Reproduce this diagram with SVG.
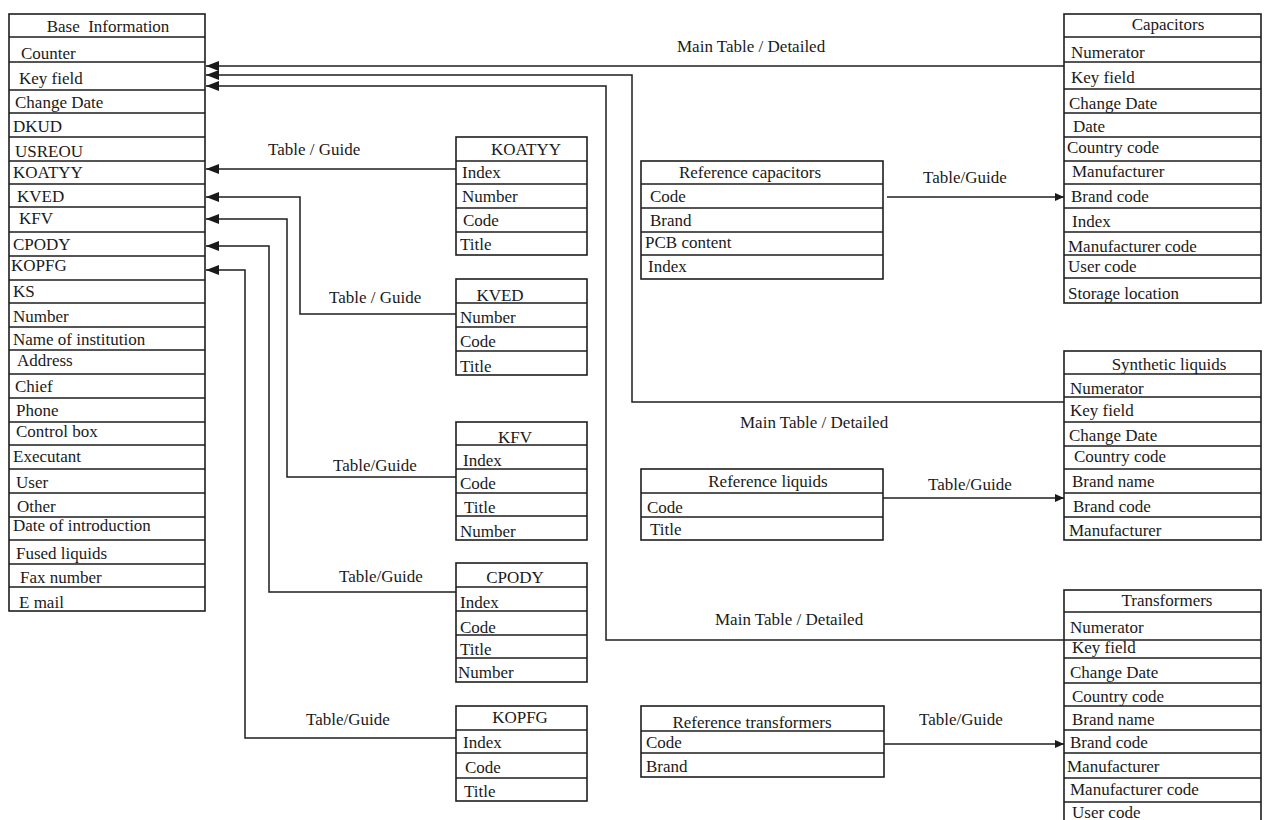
<svg xmlns="http://www.w3.org/2000/svg" width="1264" height="820" viewBox="0 0 1264 820">
<style>
.bg{fill:#ffffff}
.tb{fill:#ffffff;stroke:#1e1e1e;stroke-width:1.6}
.ln{fill:none;stroke:#1e1e1e;stroke-width:1.4}
.c{fill:none;stroke:#1e1e1e;stroke-width:1.5}
text{font-family:"Liberation Serif","Times New Roman",serif;font-size:17px;fill:#1a1a1a}
.h{text-anchor:middle}
</style>
<defs>
<marker id="al" markerUnits="userSpaceOnUse" markerWidth="14" markerHeight="10" refX="13" refY="5" orient="auto">
<path d="M0,0 L13,5 L0,10 Z" fill="#1a1a1a"/>
</marker>
<marker id="ar" markerUnits="userSpaceOnUse" markerWidth="10" markerHeight="8" refX="9" refY="4" orient="auto">
<path d="M0,0 L9,4 L0,8 Z" fill="#1a1a1a"/>
</marker>
</defs>
<rect class="bg" x="0" y="0" width="1264" height="820"/>

<g id="connectors">
<path class="c" d="M1064,66 H206" marker-end="url(#al)"/>
<path class="c" d="M1064,402 H632 V75 H206" marker-end="url(#al)"/>
<path class="c" d="M1064,640 H606 V86 H206" marker-end="url(#al)"/>
<path class="c" d="M456,169 H206" marker-end="url(#al)"/>
<path class="c" d="M456,314 H300 V197 H206" marker-end="url(#al)"/>
<path class="c" d="M456,477 H287 V219 H206" marker-end="url(#al)"/>
<path class="c" d="M456,592 H269 V246 H206" marker-end="url(#al)"/>
<path class="c" d="M456,738 H245 V270 H206" marker-end="url(#al)"/>
<path class="c" d="M887,197 H1064" marker-end="url(#ar)"/>
<path class="c" d="M883,498 H1064" marker-end="url(#ar)"/>
<path class="c" d="M884,744 H1064" marker-end="url(#ar)"/>
<text x="677" y="52">Main Table / Detailed</text>
<text x="740" y="428">Main Table / Detailed</text>
<text x="715" y="625">Main Table / Detailed</text>
<text x="268" y="155">Table / Guide</text>
<text x="329" y="303">Table / Guide</text>
<text x="333" y="471">Table/Guide</text>
<text x="339" y="582">Table/Guide</text>
<text x="306" y="725">Table/Guide</text>
<text x="923" y="183">Table/Guide</text>
<text x="928" y="490">Table/Guide</text>
<text x="919" y="725">Table/Guide</text>
</g>

<g id="base-information">
<rect class="tb" x="9" y="14" width="196" height="597"/>
<path class="ln" d="M9,37H205M9,62H205M9,90H205M9,113H205M9,137H205M9,161H205M9,184H205M9,207H205M9,232H205M9,256H205M9,280H205M9,303H205M9,327H205M9,350H205M9,374H205M9,398H205M9,422H205M9,445H205M9,469H205M9,493H205M9,517H205M9,540H205M9,564H205M9,587H205"/>
<text class="h" x="108" y="32" xml:space="preserve">Base  Information</text>
<text x="21" y="59">Counter</text>
<text x="19" y="84">Key field</text>
<text x="15" y="108">Change Date</text>
<text x="13" y="132">DKUD</text>
<text x="15" y="157">USREOU</text>
<text x="13" y="178">KOATYY</text>
<text x="17" y="202">KVED</text>
<text x="19" y="224">KFV</text>
<text x="13" y="250">CPODY</text>
<text x="11" y="271">KOPFG</text>
<text x="13" y="297">KS</text>
<text x="13" y="322">Number</text>
<text x="13" y="345">Name of institution</text>
<text x="17" y="366">Address</text>
<text x="15" y="392">Chief</text>
<text x="16" y="416">Phone</text>
<text x="16" y="437">Control box</text>
<text x="13" y="462">Executant</text>
<text x="16" y="488">User</text>
<text x="17" y="512">Other</text>
<text x="13" y="531">Date of introduction</text>
<text x="16" y="559">Fused liquids</text>
<text x="20" y="583">Fax number</text>
<text x="19" y="608">E mail</text>
</g>

<g id="koatyy">
<rect class="tb" x="456" y="137" width="131" height="118"/>
<path class="ln" d="M456,161H587M456,184H587M456,208H587M456,232H587"/>
<text class="h" x="526" y="155">KOATYY</text>
<text x="462" y="178">Index</text>
<text x="462" y="202">Number</text>
<text x="463" y="226">Code</text>
<text x="460" y="250">Title</text>
</g>

<g id="kved">
<rect class="tb" x="456" y="279" width="131" height="96"/>
<path class="ln" d="M456,303H587M456,327H587M456,351H587"/>
<text class="h" x="500" y="301">KVED</text>
<text x="460" y="323">Number</text>
<text x="460" y="347">Code</text>
<text x="460" y="372">Title</text>
</g>

<g id="kfv">
<rect class="tb" x="456" y="422" width="131" height="118"/>
<path class="ln" d="M456,445H587M456,469H587M456,493H587M456,516H587"/>
<text class="h" x="515" y="443">KFV</text>
<text x="463" y="466">Index</text>
<text x="460" y="489">Code</text>
<text x="464" y="513">Title</text>
<text x="460" y="537">Number</text>
</g>

<g id="cpody">
<rect class="tb" x="456" y="563" width="131" height="119"/>
<path class="ln" d="M456,587H587M456,611H587M456,635H587M456,658H587"/>
<text class="h" x="515" y="583">CPODY</text>
<text x="460" y="608">Index</text>
<text x="460" y="633">Code</text>
<text x="460" y="655">Title</text>
<text x="458" y="678">Number</text>
</g>

<g id="kopfg">
<rect class="tb" x="456" y="706" width="131" height="95"/>
<path class="ln" d="M456,730H587M456,753H587M456,778H587"/>
<text class="h" x="520" y="723">KOPFG</text>
<text x="463" y="748">Index</text>
<text x="465" y="773">Code</text>
<text x="464" y="797">Title</text>
</g>

<g id="reference-capacitors">
<rect class="tb" x="641" y="161" width="242" height="118"/>
<path class="ln" d="M641,184H883M641,208H883M641,232H883M641,255H883"/>
<text class="h" x="750" y="178">Reference capacitors</text>
<text x="650" y="202">Code</text>
<text x="650" y="226">Brand</text>
<text x="645" y="248">PCB content</text>
<text x="648" y="272">Index</text>
</g>

<g id="reference-liquids">
<rect class="tb" x="641" y="469" width="242" height="71"/>
<path class="ln" d="M641,493H883M641,517H883"/>
<text class="h" x="768" y="487">Reference liquids</text>
<text x="647" y="513">Code</text>
<text x="650" y="535">Title</text>
</g>

<g id="reference-transformers">
<rect class="tb" x="641" y="706" width="243" height="71"/>
<path class="ln" d="M641,731H884M641,753H884"/>
<text class="h" x="752" y="728">Reference transformers</text>
<text x="646" y="748">Code</text>
<text x="646" y="772">Brand</text>
</g>

<g id="capacitors">
<rect class="tb" x="1064" y="14" width="197" height="289"/>
<path class="ln" d="M1064,37H1261M1064,62H1261M1064,89H1261M1064,113H1261M1064,137H1261M1064,161H1261M1064,184H1261M1064,208H1261M1064,232H1261M1064,255H1261M1064,278H1261"/>
<text class="h" x="1168" y="30">Capacitors</text>
<text x="1071" y="58">Numerator</text>
<text x="1071" y="83">Key field</text>
<text x="1069" y="109">Change Date</text>
<text x="1073" y="132">Date</text>
<text x="1067" y="153">Country code</text>
<text x="1072" y="177">Manufacturer</text>
<text x="1071" y="202">Brand code</text>
<text x="1072" y="227">Index</text>
<text x="1068" y="252">Manufacturer code</text>
<text x="1068" y="272">User code</text>
<text x="1068" y="299">Storage location</text>
</g>

<g id="synthetic-liquids">
<rect class="tb" x="1064" y="351" width="197" height="189"/>
<path class="ln" d="M1064,374H1261M1064,397H1261M1064,422H1261M1064,446H1261M1064,469H1261M1064,493H1261M1064,517H1261"/>
<text class="h" x="1169" y="370">Synthetic liquids</text>
<text x="1070" y="394">Numerator</text>
<text x="1070" y="416">Key field</text>
<text x="1069" y="441">Change Date</text>
<text x="1074" y="462">Country code</text>
<text x="1072" y="487">Brand name</text>
<text x="1073" y="512">Brand code</text>
<text x="1069" y="536">Manufacturer</text>
</g>

<g id="transformers">
<rect class="tb" x="1064" y="590" width="197" height="240"/>
<path class="ln" d="M1064,612H1261M1064,640H1261M1064,658H1261M1064,683H1261M1064,706H1261M1064,730H1261M1064,753H1261M1064,778H1261M1064,802H1261"/>
<text class="h" x="1167" y="606">Transformers</text>
<text x="1070" y="633">Numerator</text>
<text x="1072" y="653">Key field</text>
<text x="1070" y="678">Change Date</text>
<text x="1072" y="702">Country code</text>
<text x="1072" y="725">Brand name</text>
<text x="1070" y="748">Brand code</text>
<text x="1067" y="772">Manufacturer</text>
<text x="1070" y="795">Manufacturer code</text>
<text x="1072" y="818">User code</text>
</g>
</svg>
